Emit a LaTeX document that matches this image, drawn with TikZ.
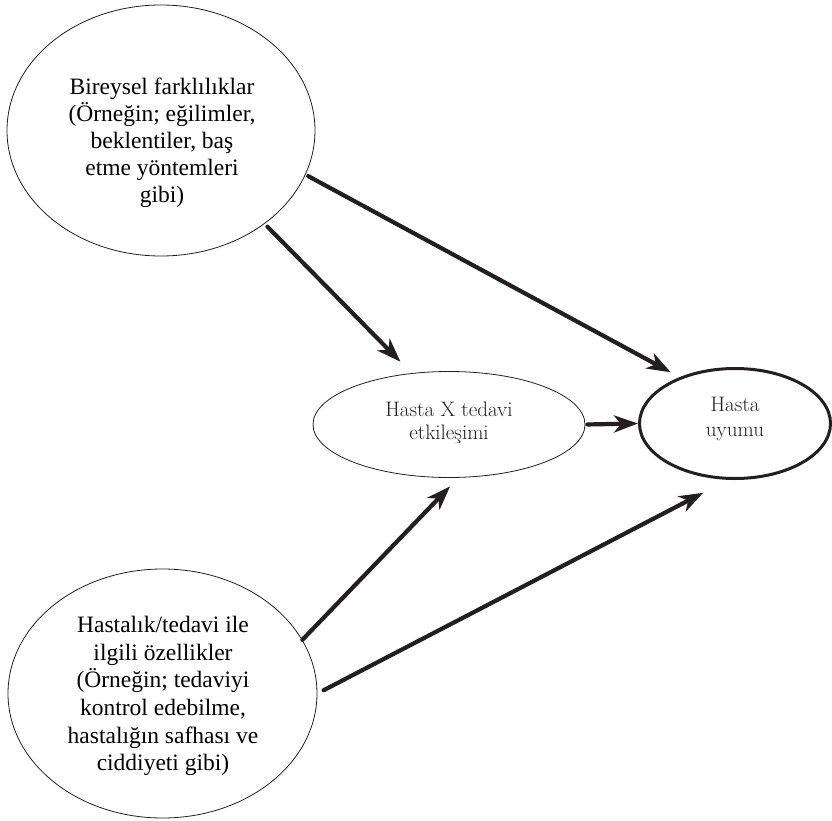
\documentclass[tikz,border=0pt]{standalone}
\usepackage{fontspec}
\newfontfamily\timesfont{Liberation Serif}
\usetikzlibrary{shapes.geometric,arrows.meta}
\definecolor{ink}{HTML}{231F20}
\tikzset{
  oval/.style={draw=ink, ellipse, inner sep=0pt, line width=0.8pt},
  oktxt/.style={align=center, text=black, font=\timesfont\fontsize{23.5}{27}\selectfont},
  gartxt/.style={align=center, text=ink, font=\fontsize{21}{23}\selectfont},
  flow/.style={-{Stealth[length=24pt,width=17pt,inset=7pt]}, line width=4.2pt, draw=ink}
}
\begin{document}
\begin{tikzpicture}[x=1pt,y=-1pt,line cap=round]
    \useasboundingbox (0,0) rectangle (832,821);
    \node[oval, minimum width=308pt, minimum height=251pt] (bireysel) at (161,130.5) {};   %a
    \node[oktxt] (bireyselTxt) at (162,143) {Bireysel farklılıklar\\(Örneğin; eğilimler,\\beklentiler, baş\\etme yöntemleri\\gibi)};
    \node[oval, minimum width=309pt, minimum height=249pt] (hastalik) at (162.5,693.5) {};   %b
    \node[oktxt, font=\timesfont\fontsize{23.5}{27.7}\selectfont] (hastalikTxt) at (163,696) {Hastalık/tedavi ile\\ilgili özellikler\\(Örneğin; tedaviyi\\kontrol edebilme,\\hastalığın safhası ve\\ciddiyeti gibi)};
    \node[oval, minimum width=272pt, minimum height=106pt] (etkilesim) at (449,424.5) {};   %c
    \node[gartxt] (etkilesimTxt) at (449,423) {Hasta X tedavi\\etkileşimi};
    \node[oval, line width=3pt, minimum width=191pt, minimum height=110pt] (uyum) at (735,423.5) {};   %d
    \node[gartxt, font=\fontsize{21}{25.5}\selectfont] (uyumTxt) at (735,419) {Hasta\\uyumu};
    \draw[flow, shorten <=3pt, shorten >=10pt] (bireysel.-17.6) -- (uyum.140.9);     % ad
    \draw[flow, shorten <=4pt, shorten >=16pt] (bireysel.-42.6) -- (etkilesim.126.4);     % ac
    \draw[flow, shorten <=2pt] (etkilesim.east) -- (uyum.west);     % cd
    \draw[flow, shorten >=12pt] (hastalik.21) -- (etkilesim.-80);     % bc
    \draw[flow, shorten <=7pt, shorten >=28pt] (hastalik.0) -- (uyum.-97);     % bd
\end{tikzpicture}
\end{document}
